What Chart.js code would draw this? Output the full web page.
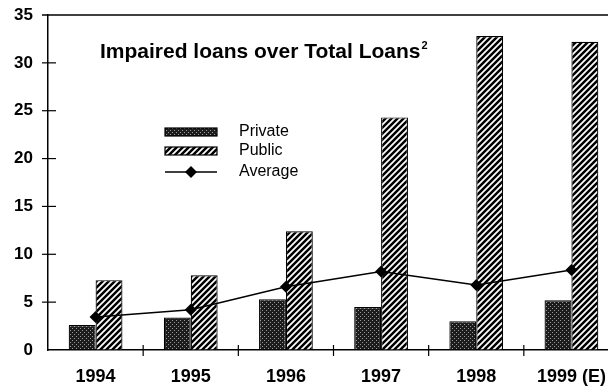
<!DOCTYPE html>
<html>
<head>
<meta charset="utf-8">
<script src="https://cdn.jsdelivr.net/npm/chart.js@4.4.1/dist/chart.umd.min.js"></script>
<style>
  html, body { margin: 0; padding: 0; background: #fff; overflow: hidden; }
  canvas { display: block; }
</style>
</head>
<body>
<canvas id="loansChart" width="625" height="389"></canvas>
<script>
const years = ["1994", "1995", "1996", "1997", "1998", "1999 (E)"];
const privateLoans = [2.6, 3.4, 5.3, 4.5, 3.0, 5.2];
const publicLoans = [7.3, 7.8, 12.4, 24.3, 32.8, 32.2];
const averageLoans = [3.45, 4.2, 6.6, 8.2, 6.8, 8.35];
const yTicks = [0, 5, 10, 15, 20, 25, 30, 35];

const FONT = "'Liberation Sans', Arial, sans-serif";

function makeStipple() {
    const c = document.createElement("canvas");
    c.width = 4;
    c.height = 4;
    const g = c.getContext("2d");
    g.fillStyle = "#1c1c1c";
    g.fillRect(0, 0, 4, 4);
    g.fillStyle = "#9a9a9a";
    g.fillRect(0, 0, 1, 1);
    g.fillRect(2, 2, 1, 1);
    return g.createPattern(c, "repeat");
}

function makeHatch() {
    const s = 6;
    const c = document.createElement("canvas");
    c.width = s;
    c.height = s;
    const g = c.getContext("2d");
    g.fillStyle = "#fff";
    g.fillRect(0, 0, s, s);
    g.strokeStyle = "#000";
    g.lineWidth = 2.5;
    g.beginPath();
    g.moveTo(-1, s + 1); g.lineTo(s + 1, -1);
    g.moveTo(-1, 1); g.lineTo(1, -1);
    g.moveTo(s - 1, s + 1); g.lineTo(s + 1, s - 1);
    g.stroke();
    return g.createPattern(c, "repeat");
}

const stipple = makeStipple();
const hatch = makeHatch();

// title, legend and the tick stubs that cross the axes
const decorations = {
    id: "decorations",
    afterDraw(chart) {
        const ctx = chart.ctx;
        const x = chart.scales.x;
        const y = chart.scales.y;
        ctx.save();
        ctx.strokeStyle = "#000";
        ctx.lineWidth = 1.5;

        // top line at 35
        const yTop = y.getPixelForValue(35);
        ctx.beginPath();
        ctx.moveTo(x.left - 6, yTop);
        ctx.lineTo(chart.width, yTop);
        ctx.stroke();

        // y tick marks crossing the axis
        ctx.lineWidth = 1.2;
        yTicks.slice(1, -1).forEach(v => {
            const py = y.getPixelForValue(v);
            ctx.beginPath();
            ctx.moveTo(x.left - 6, py);
            ctx.lineTo(x.left + 8, py);
            ctx.stroke();
        });
        // x tick marks at category boundaries
        for (let i = 1; i < years.length; i++) {
            const px = (x.getPixelForValue(i - 1) + x.getPixelForValue(i)) / 2;
            ctx.beginPath();
            ctx.moveTo(px, y.bottom - 5);
            ctx.lineTo(px, y.bottom + 6);
            ctx.stroke();
        }

        // title
        ctx.fillStyle = "#000";
        ctx.textBaseline = "alphabetic";
        ctx.textAlign = "left";
        ctx.font = "bold 21px " + FONT;
        const title = "Impaired loans over Total Loans";
        ctx.fillText(title, 100, 58);
        const tw = ctx.measureText(title).width;
        ctx.font = "bold 11px " + FONT;
        ctx.fillText("2", 100 + tw + 1, 49);

        // legend
        const ds = chart.data.datasets;
        const lx = 165, lw = 52, tx = 239;
        ctx.font = "16px " + FONT;
        ctx.textBaseline = "middle";
        [[ds[0], 132], [ds[1], 151]].forEach(([d, ly]) => {
            ctx.fillStyle = d.backgroundColor;
            ctx.fillRect(lx, ly - 4, lw, 8);
            ctx.lineWidth = 1.2;
            ctx.strokeRect(lx, ly - 4, lw, 8);
            ctx.fillStyle = "#000";
            ctx.fillText(d.label, tx, ly);
        });
        const ay = 172;
        ctx.lineWidth = 1.5;
        ctx.beginPath();
        ctx.moveTo(lx, ay);
        ctx.lineTo(lx + lw, ay);
        ctx.stroke();
        ctx.beginPath();
        const cx = lx + 26;
        ctx.moveTo(cx, ay - 6); ctx.lineTo(cx + 6, ay); ctx.lineTo(cx, ay + 6); ctx.lineTo(cx - 6, ay);
        ctx.closePath();
        ctx.fill();
        ctx.fillText(ds[2].label, tx, ay);
        ctx.restore();
    }
};

new Chart(document.getElementById("loansChart"), {
    type: "bar",
    data: {
        labels: years,
        datasets: [{
            label: "Private",
            data: privateLoans,
            backgroundColor: stipple,
            borderColor: "#000",
            borderWidth: 1.2,
            order: 1
        }, {
            label: "Public",
            data: publicLoans,
            backgroundColor: hatch,
            borderColor: "#000",
            borderWidth: 1.2,
            order: 1
        }, {
            type: "line",
            label: "Average",
            data: averageLoans,
            borderColor: "#000",
            backgroundColor: "#000",
            borderWidth: 1.5,
            pointStyle: "rectRot",
            pointRadius: 6,
            pointBorderWidth: 0,
            order: 0
        }]
    },
    options: {
        responsive: false,
        animation: false,
        events: [],
        layout: { padding: { top: 15, right: 4, left: 0, bottom: 0 } },
        plugins: {
            legend: { display: false },
            tooltip: { enabled: false }
        },
        datasets: {
            bar: { categoryPercentage: 0.565, barPercentage: 1 }
        },
        scales: {
            x: {
                offset: true,
                grid: { display: false, offset: true },
                border: { color: "#000", width: 1.5 },
                ticks: {
                    color: "#000",
                    font: { family: FONT, size: 18, weight: "bold" },
                    padding: 8,
                    maxRotation: 0
                },
                afterFit(scale) { scale.height = 39; }
            },
            y: {
                min: 0,
                max: 35,
                grid: {
                    display: true,
                    drawOnChartArea: false,
                    tickColor: "rgba(0,0,0,0)",
                    tickLength: 12
                },
                border: { color: "#000", width: 1.5 },
                ticks: {
                    stepSize: 5,
                    color: "#000",
                    font: { family: FONT, size: 17, weight: "bold" },
                    padding: 3
                },
                afterFit(scale) { scale.width = 48; }
            }
        }
    },
    plugins: [decorations]
});
</script>
</body>
</html>
